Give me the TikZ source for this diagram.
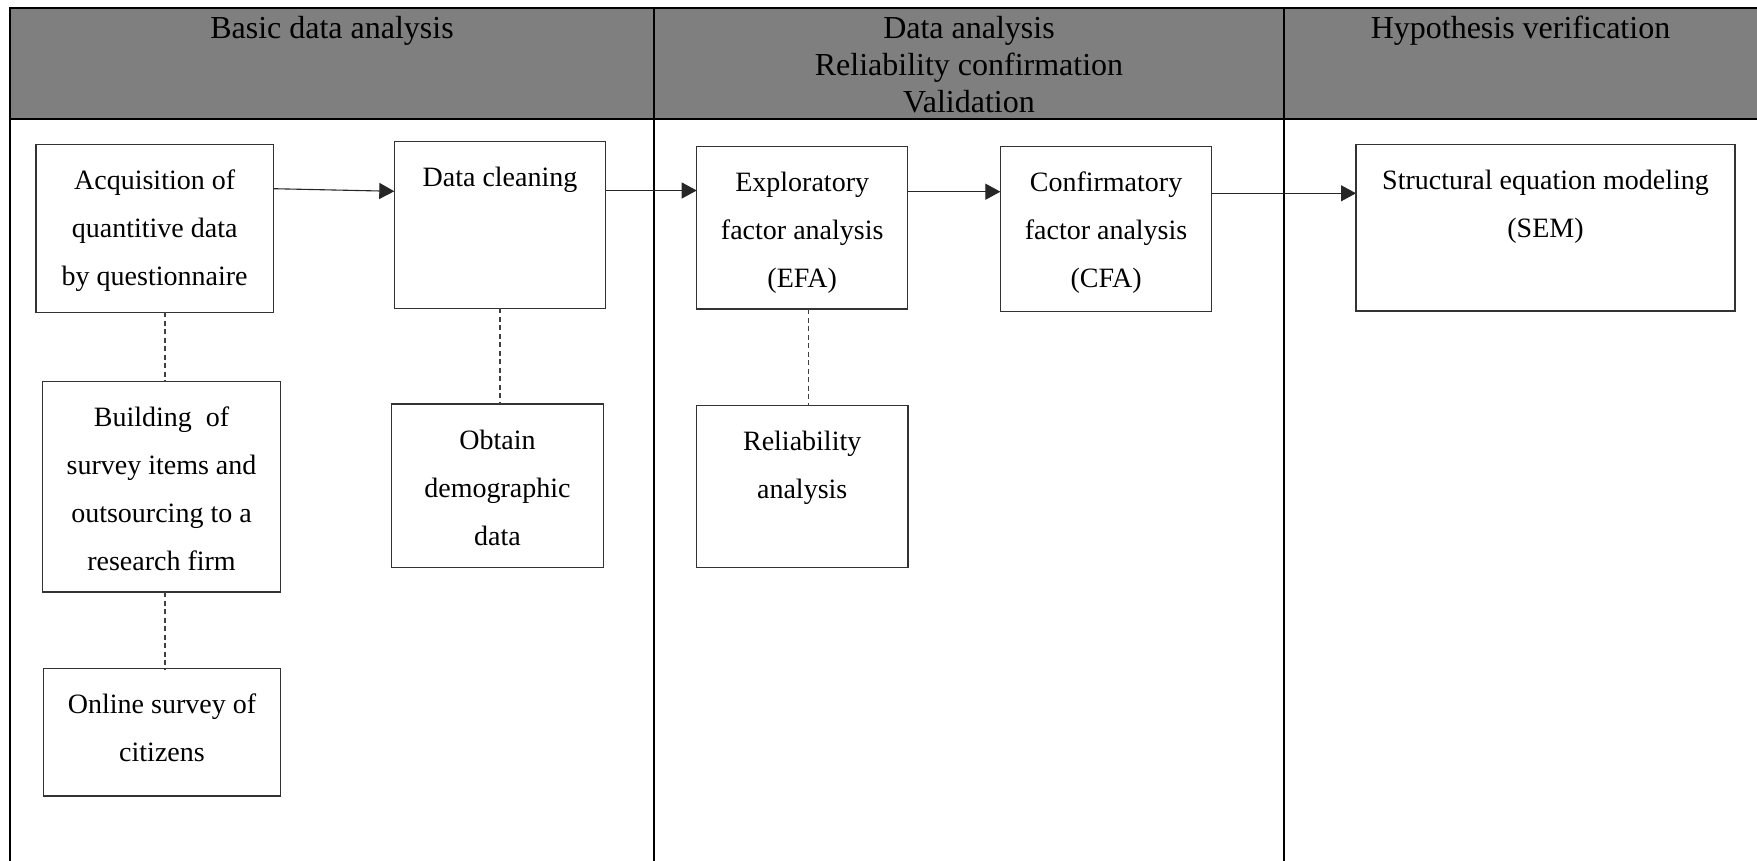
\documentclass[tikz,border=0pt]{standalone}
\usepackage{fontspec}
\setmainfont{Liberation Serif}
\usetikzlibrary{arrows.meta}
\definecolor{headgray}{HTML}{7F7F7F}

% box text: top-aligned, centred lines
\newcommand{\boxtxt}[3]{\parbox[c][#2][t]{#1}{\fontsize{28}{48}\selectfont\centering\vspace*{11.4pt}\strut #3}}
% header text of a column
\newcommand{\headtxt}[2]{\parbox[t]{#1}{\fontsize{32}{37}\selectfont\centering\strut #2}}

\begin{document}
\begin{tikzpicture}[x=1pt,y=-1pt,
  frame/.style={line width=2.4pt, black},
  procbox/.style={draw=black!80, line width=1.1pt, inner sep=0pt, outer sep=0pt, anchor=north west, fill=white},
  headlabel/.style={anchor=north, inner sep=0pt},
  flow/.style={line width=1.1pt, draw=black!85, -{Triangle[length=15pt,width=16pt]}},
  link/.style={line width=1.1pt, draw=black!75, dash pattern=on 5pt off 3.5pt}]
\useasboundingbox (0,0) rectangle (1757,861);

% header band and lane frame
\fill[headgray] (10,8) rectangle (1757,119.3);
\draw[frame] (10,861) -- (10,8) -- (1757,8);
\draw[frame] (10,119.3) -- (1757,119.3);
\draw[frame] (654,8) -- (654,861);
\draw[frame] (1284,8) -- (1284,861);

% lane headings
\node[headlabel] (h1) at (332,12.1) {\headtxt{600pt}{Basic data analysis}};
\node[headlabel] (h2) at (969,12.1) {\headtxt{600pt}{Data analysis\\Reliability confirmation\\Validation}};
\node[headlabel] (h3) at (1520.5,12.1) {\headtxt{460pt}{Hypothesis verification}};

% process boxes
\node[procbox] (acq) at (36,144.3) {\boxtxt{237.3pt}{168pt}{Acquisition of\\quantitive data\\by questionnaire}};
\node[procbox] (build) at (42.7,381.6) {\boxtxt{237.6pt}{210.4pt}{Building\ \ of\\survey items and\\outsourcing to a\\research firm}};
\node[procbox] (online) at (43.3,668.7) {\boxtxt{237.4pt}{127.3pt}{Online survey of\\citizens}};
\node[procbox] (clean) at (394.3,141.7) {\boxtxt{211.4pt}{166.6pt}{Data cleaning}};
\node[procbox] (obtain) at (391.7,404) {\boxtxt{211.6pt}{163.7pt}{Obtain\\demographic\\data}};
\node[procbox] (efa) at (696.7,146.7) {\boxtxt{211pt}{162.3pt}{Exploratory\\factor analysis\\(EFA)}};
\node[procbox] (rel) at (696.4,405.5) {\boxtxt{211.6pt}{161.8pt}{Reliability\\analysis}};
\node[procbox] (cfa) at (1000.4,146.5) {\boxtxt{211.3pt}{164.6pt}{Confirmatory\\factor analysis\\(CFA)}};
\node[procbox] (sem) at (1356,144.3) {\boxtxt{379pt}{166.7pt}{Structural equation modeling\\(SEM)}};

% main flow
\draw[flow] ([yshift=-44.4pt]acq.north east) -- ([yshift=-49.6pt]clean.north west);
\draw[flow] ([yshift=-48.8pt]clean.north east) -- ([yshift=-43.8pt]efa.north west);
\draw[flow] ([yshift=-45pt]efa.north east) -- ([yshift=-45.2pt]cfa.north west);
\draw[flow] ([yshift=-46.8pt]cfa.north east) -- ([yshift=-49pt]sem.north west);

% supporting steps
\coordinate (c1) at (165,0);
\coordinate (c2) at (500,0);
\coordinate (c3) at (808.3,0);
\draw[link] (acq.south -| c1) -- (build.north -| c1);
\draw[link] (build.south -| c1) -- (online.north -| c1);
\draw[link] (clean.south -| c2) -- (obtain.north -| c2);
\draw[link] (efa.south -| c3) -- (rel.north -| c3);
\end{tikzpicture}
\end{document}
